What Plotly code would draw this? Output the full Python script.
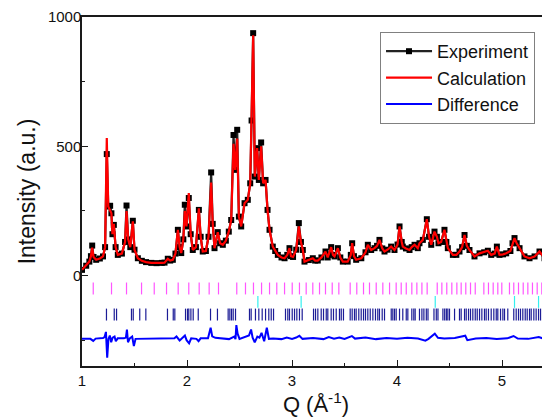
import plotly.graph_objects as go

# ---------------- data ----------------
q_obs = [1.000, 1.040, 1.070, 1.085, 1.097, 1.110, 1.135, 1.170, 1.200, 1.220,
         1.236, 1.250, 1.268, 1.280, 1.290, 1.303, 1.320, 1.341, 1.380, 1.410,
         1.424, 1.440, 1.460, 1.484, 1.500, 1.532, 1.570, 1.610, 1.660, 1.710,
         1.760, 1.786, 1.817, 1.840, 1.865, 1.890, 1.913, 1.930, 1.945, 1.965,
         1.979, 1.995, 2.017, 2.035, 2.055, 2.085, 2.113, 2.130, 2.150, 2.180,
         2.205, 2.230, 2.245, 2.262, 2.293, 2.315, 2.341, 2.370, 2.398, 2.421,
         2.443, 2.459, 2.478, 2.494, 2.516, 2.548, 2.579, 2.602, 2.615, 2.630,
         2.646, 2.668, 2.684, 2.706, 2.725, 2.748, 2.767, 2.786, 2.817, 2.840,
         2.865, 2.900, 2.929, 2.955, 2.976, 2.990, 3.010, 3.040, 3.065, 3.085,
         3.103, 3.119, 3.160, 3.198, 3.220, 3.245, 3.280, 3.319, 3.340, 3.373,
         3.390, 3.405, 3.437, 3.460, 3.484, 3.530, 3.560, 3.573, 3.590, 3.611,
         3.660, 3.700, 3.722, 3.754, 3.786, 3.810, 3.833, 3.860, 3.881, 3.910,
         3.944, 3.976, 4.005, 4.024, 4.045, 4.055, 4.085, 4.119, 4.140, 4.167,
         4.198, 4.214, 4.246, 4.284, 4.305, 4.326, 4.357, 4.380, 4.395, 4.420,
         4.452, 4.470, 4.484, 4.532, 4.565, 4.595, 4.620, 4.643, 4.665, 4.690,
         4.738, 4.786, 4.830, 4.865, 4.897, 4.930, 4.951, 4.976, 5.010, 5.040,
         5.080, 5.100, 5.119, 5.140, 5.167, 5.214, 5.262, 5.310, 5.357, 5.405,
         5.452, 5.500]

experiment = [22, 38, 54, 75, 116, 72, 61, 66, 74, 110,
              470, 267, 270, 241, 160, 196, 110, 80, 85, 130,
              271, 140, 110, 212, 100, 67, 57, 52, 49, 48,
              49, 50, 65, 58, 61, 85, 177, 110, 87, 140,
              274, 190, 300, 160, 99, 110, 254, 150, 93, 95,
              150, 399, 200, 106, 168, 125, 119, 135, 170, 215,
              544, 409, 564, 228, 190, 280, 293, 357, 600, 938,
              383, 493, 370, 515, 357, 370, 254, 177, 112, 95,
              80, 70, 67, 80, 106, 75, 72, 100, 203, 130,
              99, 54, 60, 67, 58, 58, 70, 93, 70, 110,
              80, 74, 106, 70, 54, 54, 80, 125, 75, 61,
              67, 90, 119, 99, 106, 115, 138, 105, 93, 100,
              112, 99, 120, 190, 130, 112, 105, 99, 110, 119,
              106, 125, 138, 218, 150, 119, 170, 150, 125, 130,
              177, 130, 106, 80, 80, 93, 110, 157, 115, 99,
              74, 86, 90, 96, 80, 85, 112, 80, 82, 86,
              95, 125, 145, 125, 106, 74, 67, 74, 93, 67,
              67, 65]

calculation = [22, 38, 54, 75, 108, 72, 61, 66, 74, 110,
               532, 267, 248, 241, 160, 200, 110, 80, 85, 130,
               250, 140, 110, 210, 100, 67, 57, 52, 49, 48,
               49, 50, 65, 58, 61, 85, 177, 110, 87, 140,
               250, 190, 319, 160, 99, 110, 260, 150, 93, 95,
               150, 360, 200, 106, 168, 125, 119, 135, 170, 215,
               510, 409, 530, 228, 190, 280, 293, 357, 600, 930,
               383, 493, 370, 500, 357, 370, 254, 177, 112, 95,
               80, 70, 67, 80, 106, 75, 72, 100, 190, 130,
               99, 54, 60, 67, 58, 58, 70, 93, 70, 110,
               80, 74, 106, 70, 54, 54, 80, 125, 75, 61,
               67, 90, 119, 99, 106, 115, 138, 105, 93, 100,
               112, 99, 120, 190, 130, 112, 105, 99, 110, 119,
               106, 125, 138, 218, 150, 119, 170, 150, 125, 130,
               177, 130, 106, 80, 80, 93, 110, 157, 115, 99,
               74, 86, 90, 96, 80, 85, 112, 80, 82, 86,
               95, 125, 145, 125, 106, 74, 67, 74, 93, 67,
               67, 65]

q_diff = [1.000, 1.080, 1.107, 1.130, 1.200, 1.215, 1.228, 1.240, 1.252, 1.265,
          1.278, 1.292, 1.310, 1.322, 1.340, 1.400, 1.418, 1.428, 1.438, 1.455,
          1.478, 1.494, 1.510, 1.600, 1.700, 1.800, 1.880, 1.900, 1.930, 1.980,
          1.996, 2.020, 2.040, 2.090, 2.110, 2.130, 2.200, 2.225, 2.240, 2.270,
          2.330, 2.400, 2.450, 2.462, 2.470, 2.482, 2.500, 2.560, 2.590, 2.610,
          2.625, 2.645, 2.670, 2.690, 2.710, 2.735, 2.760, 2.780, 2.820, 2.900,
          2.950, 3.000, 3.040, 3.070, 3.100, 3.200, 3.300, 3.350, 3.400, 3.450,
          3.500, 3.570, 3.600, 3.700, 3.800, 3.900, 4.000, 4.100, 4.200, 4.270,
          4.300, 4.360, 4.390, 4.450, 4.550, 4.650, 4.670, 4.750, 4.850, 4.950,
          5.050, 5.110, 5.150, 5.250, 5.350, 5.400, 5.500]

difference = [-245, -245, -253, -244, -242, -238, -218, -318, -245, -232,
              -258, -240, -236, -254, -243, -243, -240, -209, -258, -243,
              -236, -273, -245, -244, -243, -243, -243, -236, -251, -232,
              -250, -262, -243, -245, -254, -243, -243, -202, -235, -241,
              -244, -246, -236, -246, -192, -225, -245, -236, -232, -209,
              -240, -258, -236, -240, -222, -254, -202, -245, -244, -246,
              -240, -245, -240, -233, -245, -242, -246, -238, -244, -240,
              -245, -234, -244, -240, -246, -242, -245, -241, -244, -252,
              -245, -225, -241, -244, -242, -233, -250, -244, -242, -246,
              -243, -234, -244, -245, -238, -245, -244]

# Bragg reflection positions (three phases) and the level of each tick row
phase1_q = [1.107, 1.281, 1.424, 1.567, 1.688, 1.805, 1.916, 2.017, 2.116, 2.211,
            2.300, 2.474, 2.557, 2.633, 2.710, 2.786, 2.855, 2.929, 3.002, 3.071,
            3.135, 3.198, 3.262, 3.319, 3.383, 3.446, 3.554, 3.617, 3.681, 3.738,
            3.802, 3.865, 3.929, 3.992, 4.040, 4.088, 4.141, 4.189, 4.237, 4.287,
            4.383, 4.427, 4.474, 4.522, 4.570, 4.611, 4.655, 4.700, 4.745, 4.827,
            4.871, 4.916, 4.960, 4.998, 5.071, 5.112, 5.157, 5.202, 5.246, 5.290,
            5.335, 5.379, 5.424]
phase2_q = [2.675, 3.087, 4.364, 5.119, 5.348]
phase3_q = [1.233, 1.307, 1.329, 1.471, 1.488, 1.550, 1.608, 1.814, 1.869, 1.884,
            1.986, 2.005, 2.017, 2.037, 2.059, 2.107, 2.224, 2.290, 2.392, 2.408,
            2.424, 2.440, 2.462, 2.595, 2.611, 2.652, 2.684, 2.716, 2.748, 2.779,
            2.802, 2.824, 2.938, 2.960, 2.976, 3.002, 3.024, 3.046, 3.071, 3.097,
            3.205, 3.224, 3.246, 3.278, 3.300, 3.326, 3.341, 3.373, 3.395, 3.421,
            3.452, 3.469, 3.490, 3.554, 3.573, 3.595, 3.611, 3.636, 3.659, 3.681,
            3.700, 3.722, 3.745, 3.770, 3.795, 3.817, 3.833, 3.859, 3.881, 3.945,
            3.960, 3.976, 3.992, 4.024, 4.055, 4.088, 4.103, 4.141, 4.160, 4.173,
            4.214, 4.237, 4.256, 4.279, 4.295, 4.352, 4.374, 4.390, 4.437, 4.454,
            4.470, 4.484, 4.500, 4.548, 4.595, 4.611, 4.643, 4.659, 4.681, 4.700,
            4.722, 4.745, 4.764, 4.786, 4.808, 4.833, 4.849, 4.871, 4.897, 4.922,
            4.945, 4.960, 4.986, 5.008, 5.024, 5.055, 5.112, 5.135, 5.157, 5.176,
            5.198, 5.221, 5.240, 5.262, 5.278, 5.303, 5.325, 5.348, 5.367, 5.389,
            5.411, 5.437]
phase_levels = [-50, -102, -151]

y_tickvals = [0, 500, 1000]
x_tickvals = [1, 2, 3, 4, 5]

FONT = "Liberation Sans, Arial, sans-serif"

fig = go.Figure()

fig.add_trace(go.Scatter(
    x=q_obs, y=experiment, name="Experiment", mode="lines+markers",
    line=dict(color="#222222", width=2.2),
    marker=dict(symbol="square", size=6, color="black", line=dict(width=0)),
))
fig.add_trace(go.Scatter(
    x=q_obs, y=calculation, name="Calculation", mode="lines",
    line=dict(color="#ff0000", width=2.2),
))
fig.add_trace(go.Scatter(
    x=q_diff, y=difference, name="Difference", mode="lines",
    line=dict(color="#0000ff", width=2),
))

for qs, lvl, col in [(phase1_q, phase_levels[0], "#ff55ff"),
                     (phase2_q, phase_levels[1], "#33f0f0"),
                     (phase3_q, phase_levels[2], "#1c1c96")]:
    fig.add_trace(go.Scatter(
        x=qs, y=[lvl] * len(qs), mode="markers", showlegend=False,
        hoverinfo="skip",
        marker=dict(symbol="line-ns", size=8.5, color=col,
                    line=dict(color=col, width=1.2)),
    ))

axis_common = dict(
    showgrid=False, zeroline=False, showline=True, linecolor="#1a1a1a",
    linewidth=1.5, ticks="inside", tickcolor="#1a1a1a", tickwidth=1.3,
    ticklen=6, tickfont=dict(family=FONT, size=15, color="#111111"),
    automargin=False,
)

fig.update_xaxes(
    **axis_common, range=[1, 5.457], tickvals=x_tickvals,
    mirror=True,
    minor=dict(dtick=0.5, tick0=1, ticks="inside", ticklen=3,
               tickcolor="#1a1a1a", tickwidth=1.3),
    title=dict(text="Q (Å<sup>-1</sup>)", font=dict(family=FONT, size=22,
               color="#111111"), standoff=4),
)
fig.update_yaxes(
    **axis_common, range=[-350, 1000.5], tickvals=y_tickvals,
    ticklabelstandoff=-4,
    minor=dict(dtick=250, tick0=0, ticks="inside", ticklen=3,
               tickcolor="#1a1a1a", tickwidth=1.3),
    title=dict(text="Intensity (a.u.)", font=dict(family=FONT, size=23,
               color="#111111"), standoff=6),
)

# the page body adds an 8 px margin, so the figure is sized to fill the
# remaining 542 x 412 of the 550 x 420 window
fig.update_layout(
    width=542, height=412,
    margin=dict(l=74, r=0, t=9, b=54),
    plot_bgcolor="white", paper_bgcolor="white",
    font=dict(family=FONT, color="#111111"),
    legend=dict(x=0.968, xanchor="right", y=0.957, yanchor="top",
                bgcolor="white", bordercolor="#808080", borderwidth=1,
                font=dict(family=FONT, size=18, color="#111111"),
                tracegroupgap=0, itemwidth=46),
    showlegend=True,
)

fig.write_html("out.html")
